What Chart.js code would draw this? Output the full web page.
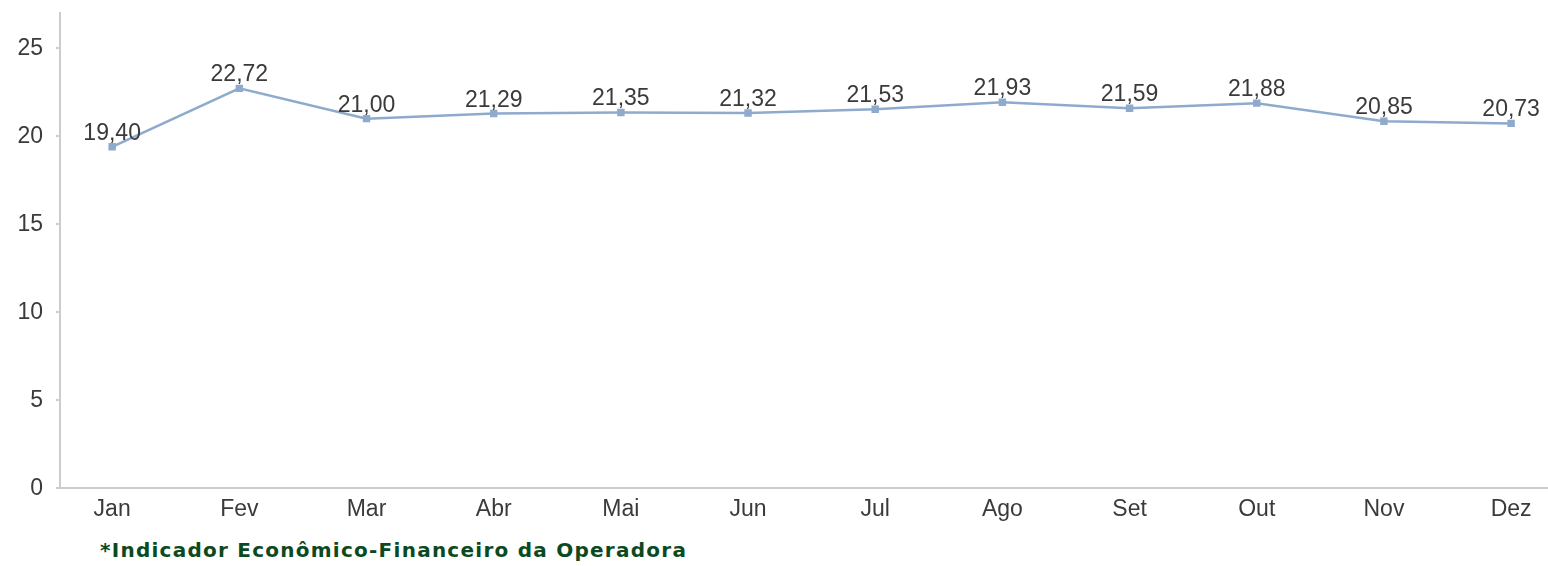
<!DOCTYPE html>
<html>
<head>
<meta charset="utf-8">
<script src="https://cdn.jsdelivr.net/npm/chart.js@4"></script>
<style>
  html, body { margin: 0; padding: 0; background: #fff; overflow: hidden; }
  #wrap { position: relative; width: 1548px; height: 566px; }
  #box { position: absolute; left: 0; top: 0; width: 1548px; height: 530px; }
  #nota {
    position: absolute; left: 100px; top: 538px;
    font-family: "DejaVu Sans", sans-serif; font-weight: bold; font-size: 20px;
    letter-spacing: 1.25px;
    color: #0b4a20; white-space: nowrap;
  }
</style>
</head>
<body>
<div id="wrap">
  <div id="box"><canvas id="grafico"></canvas></div>
  <div id="nota">*Indicador Econômico-Financeiro da Operadora</div>
</div>
<script>
// Dados do gráfico
const meses = ['Jan', 'Fev', 'Mar', 'Abr', 'Mai', 'Jun', 'Jul', 'Ago', 'Set', 'Out', 'Nov', 'Dez'];
const valores = [19.40, 22.72, 21.00, 21.29, 21.35, 21.32, 21.53, 21.93, 21.59, 21.88, 20.85, 20.73];
const ticksY = [0, 5, 10, 15, 20, 25];

const corLinha = '#8eaacd';
const corTexto = '#3a3a3a';
const corEixo = '#cccccc';
const fonte = '"Liberation Sans", Arial, sans-serif';

// Rótulos de valor acima dos pontos (formato pt-BR)
const rotulosValor = {
    id: 'rotulosValor',
    afterDatasetsDraw: function(chart) {
        const ctx = chart.ctx;
        const meta = chart.getDatasetMeta(0);
        ctx.save();
        ctx.font = '23px ' + fonte;
        ctx.fillStyle = corTexto;
        ctx.textAlign = 'center';
        ctx.textBaseline = 'alphabetic';
        meta.data.forEach(function(pt, i) {
            const txt = valores[i].toFixed(2).replace('.', ',');
            ctx.fillText(txt, pt.x, pt.y - 7);
        });
        ctx.restore();
    }
};

new Chart(document.getElementById('grafico').getContext('2d'), {
    type: 'line',
    data: {
        datasets: [{
            data: valores.map((v, i) => ({ x: i, y: v })),
            borderColor: corLinha,
            backgroundColor: corLinha,
            borderWidth: 2.5,
            pointStyle: 'rect',
            pointRadius: 3.5,
            pointHoverRadius: 3.5,
            tension: 0,
            fill: false,
            clip: false
        }]
    },
    options: {
        responsive: true,
        maintainAspectRatio: false,
        animation: false,
        layout: { autoPadding: false, padding: { top: 13, right: 0, left: 0, bottom: 0 } },
        plugins: {
            legend: { display: false },
            tooltip: { enabled: false }
        },
        scales: {
            x: {
                type: 'linear',
                min: -0.41,
                max: 11.29,
                afterBuildTicks: function(scale) {
                    scale.ticks = meses.map((m, i) => ({ value: i }));
                },
                grid: { display: false, drawTicks: false },
                border: { display: true, color: corEixo, width: 2 },
                ticks: {
                    padding: 7,
                    autoSkip: false,
                    maxRotation: 0,
                    color: corTexto,
                    font: { family: fonte, size: 23 },
                    callback: function(value) { return meses[value] ?? ''; }
                }
            },
            y: {
                min: 0,
                max: 27,
                afterBuildTicks: function(scale) {
                    scale.ticks = ticksY.map(v => ({ value: v }));
                },
                afterFit: function(scale) {
                    scale.width = 60;
                    scale.paddingTop = 0;
                    scale.paddingBottom = 0;
                },
                grid: { drawOnChartArea: false, drawTicks: true, tickLength: 4, color: corEixo, lineWidth: 2 },
                border: { display: true, color: corEixo, width: 2 },
                ticks: {
                    padding: 13,
                    color: corTexto,
                    font: { family: fonte, size: 23 }
                }
            }
        }
    },
    plugins: [rotulosValor]
});
</script>
</body>
</html>
